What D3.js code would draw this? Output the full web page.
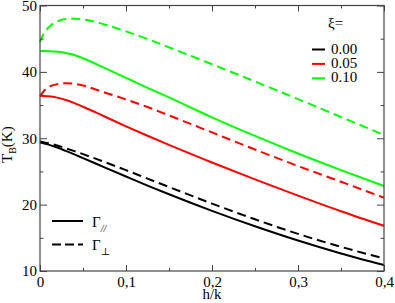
<!DOCTYPE html>
<html>
<head>
<meta charset="utf-8">
<script src="https://cdn.jsdelivr.net/npm/d3@7"></script>
<style>
  body { margin: 0; background: #fff; }
  svg { display: block; font-family: "Liberation Serif", "DejaVu Serif", serif; }
  .axis path { display: none; }
  .axis line { stroke: #444; }
  .axis text { font-family: "Liberation Serif", "DejaVu Serif", serif; font-size: 15px; fill: #000; }
</style>
</head>
<body>
<svg width="395" height="303"></svg>
<script>
// h/k sample points
var hk = [0, 0.005, 0.01, 0.02, 0.03, 0.04, 0.05, 0.075, 0.1, 0.125, 0.15, 0.2, 0.25, 0.3, 0.35, 0.4];

// T_B (K) for each xi, parallel (solid) and perpendicular (dashed)
var par000 = [29.35, 29.21, 29.04, 28.6, 28.09, 27.56, 27.01, 25.62, 24.24, 22.87, 21.56, 19.06, 16.74, 14.59, 12.64, 10.89];
var perp000 = [29.5, 29.38, 29.24, 28.9, 28.49, 28.06, 27.61, 26.42, 25.19, 23.92, 22.66, 20.16, 17.79, 15.59, 13.64, 11.89];
var par005 = [36.4, 36.38, 36.33, 36.12, 35.77, 35.3, 34.75, 33.28, 31.8, 30.38, 29.0, 26.35, 23.8, 21.35, 19.0, 16.8];
var perp005 = [36.3, 37.2, 37.7, 38.15, 38.3, 38.2, 37.95, 36.9, 35.85, 34.7, 33.45, 30.88, 28.3, 25.82, 23.45, 21.05];
var par010 = [43.15, 43.14, 43.11, 43.02, 42.86, 42.55, 42.05, 40.6, 39.1, 37.6, 36.15, 33.15, 30.35, 27.7, 25.2, 22.8];
var perp010 = [44.5, 45.9, 46.7, 47.6, 47.95, 48.0, 47.9, 47.15, 46.1, 44.95, 43.7, 41.15, 38.55, 35.9, 33.2, 30.5];

var xiLabels = ["0.00", "0.05", "0.10"];
var xiColors = ["#000000", "#ff0000", "#00ff00"];
var xTicks = [0, 0.1, 0.2, 0.3, 0.4];
var xTickLabels = ["0", "0,1", "0,2", "0,3", "0,4"];
var xMinor = [0.05, 0.15, 0.25, 0.35];
var yTicks = [10, 20, 30, 40, 50];
var yMinor = [15, 25, 35, 45];

var series = [
  {vals: par000, color: xiColors[0], dash: null},
  {vals: perp000, color: xiColors[0], dash: "9,5"},
  {vals: par005, color: xiColors[1], dash: null},
  {vals: perp005, color: xiColors[1], dash: "9,5"},
  {vals: par010, color: xiColors[2], dash: null},
  {vals: perp010, color: xiColors[2], dash: "9,5"}
];

var svg = d3.select("svg"),
    pl = 40, pr = 384, pt = 5.5, pb = 271;

var x = d3.scaleLinear().domain([0, 0.4]).range([pl, pr]);
var y = d3.scaleLinear().domain([10, 50]).range([pb, pt]);

// curves
var line = d3.line()
    .x(function (d) { return x(d[0]); })
    .y(function (d) { return y(d[1]); })
    .curve(d3.curveMonotoneX);

svg.append("g")
    .selectAll("path")
    .data(series)
    .enter().append("path")
    .attr("d", function (s) { return line(hk.map(function (h, i) { return [h, s.vals[i]]; })); })
    .attr("fill", "none")
    .attr("stroke", function (s) { return s.color; })
    .attr("stroke-width", 2)
    .attr("stroke-dasharray", function (s) { return s.dash; });

// axes, ticks inward on all sides
svg.append("g").attr("class", "axis")
    .attr("transform", "translate(0," + pb + ")")
    .call(d3.axisBottom(x).tickValues(xTicks).tickSize(-6).tickPadding(5)
        .tickFormat(function (d, i) { return xTickLabels[i]; }));
svg.append("g").attr("class", "axis")
    .attr("transform", "translate(0," + pb + ")")
    .call(d3.axisBottom(x).tickValues(xMinor).tickSize(-3).tickFormat(""));
svg.append("g").attr("class", "axis")
    .attr("transform", "translate(0," + pt + ")")
    .call(d3.axisTop(x).tickValues(xTicks).tickSize(-6).tickFormat(""));
svg.append("g").attr("class", "axis")
    .attr("transform", "translate(0," + pt + ")")
    .call(d3.axisTop(x).tickValues(xMinor).tickSize(-3).tickFormat(""));

svg.append("g").attr("class", "axis")
    .attr("transform", "translate(" + pl + ",0)")
    .call(d3.axisLeft(y).tickValues(yTicks).tickSize(-7).tickPadding(3));
svg.append("g").attr("class", "axis")
    .attr("transform", "translate(" + pl + ",0)")
    .call(d3.axisLeft(y).tickValues(yMinor).tickSize(-3.5).tickFormat(""));
svg.append("g").attr("class", "axis")
    .attr("transform", "translate(" + pr + ",0)")
    .call(d3.axisRight(y).tickValues(yTicks).tickSize(-7).tickFormat(""));
svg.append("g").attr("class", "axis")
    .attr("transform", "translate(" + pr + ",0)")
    .call(d3.axisRight(y).tickValues(yMinor).tickSize(-3.5).tickFormat(""));

svg.append("rect")
    .attr("x", pl).attr("y", pt)
    .attr("width", pr - pl).attr("height", pb - pt)
    .attr("fill", "none").attr("stroke", "#444").attr("stroke-width", 1.2);

// axis titles
svg.append("text")
    .attr("x", 212).attr("y", 299)
    .attr("text-anchor", "middle")
    .attr("font-size", 15)
    .text("h/k");

var yl = svg.append("text")
    .attr("transform", "translate(12,163) rotate(-90)")
    .attr("font-size", 15);
yl.append("tspan").text("T");
yl.append("tspan").attr("font-size", 10).attr("dy", 4).text("B");
yl.append("tspan").attr("dy", -4).text("(K)");

// xi legend
svg.append("text")
    .attr("x", 328).attr("y", 28)
    .attr("font-size", 15)
    .text("ξ=");

var leg = svg.append("g")
    .selectAll("g")
    .data(xiLabels)
    .enter().append("g")
    .attr("transform", function (d, i) { return "translate(0," + (53.5 + i * 14.4) + ")"; });
leg.append("line")
    .attr("x1", 312).attr("x2", 325)
    .attr("y1", -4).attr("y2", -4)
    .attr("stroke", function (d, i) { return xiColors[i]; })
    .attr("stroke-width", 2);
leg.append("text")
    .attr("x", 331)
    .attr("font-size", 15)
    .text(function (d) { return d; });

// line style legend
var styles = [{dash: null, sub: "//", yy: 226.5}, {dash: "9,4", sub: "⊥", yy: 250}];
var sleg = svg.append("g")
    .selectAll("g")
    .data(styles)
    .enter().append("g")
    .attr("transform", function (d) { return "translate(0," + d.yy + ")"; });
sleg.append("line")
    .attr("x1", 52).attr("x2", 83)
    .attr("y1", -5.5).attr("y2", -5.5)
    .attr("stroke", "#000")
    .attr("stroke-width", 2)
    .attr("stroke-dasharray", function (d) { return d.dash; });
var st = sleg.append("text")
    .attr("x", 92)
    .attr("font-size", 15);
st.append("tspan").text("Γ");
st.append("tspan")
    .attr("dy", 5)
    .attr("font-size", 10)
    .attr("font-style", function (d) { return d.sub === "//" ? "italic" : null; })
    .text(function (d) { return d.sub; });
</script>
</body>
</html>
